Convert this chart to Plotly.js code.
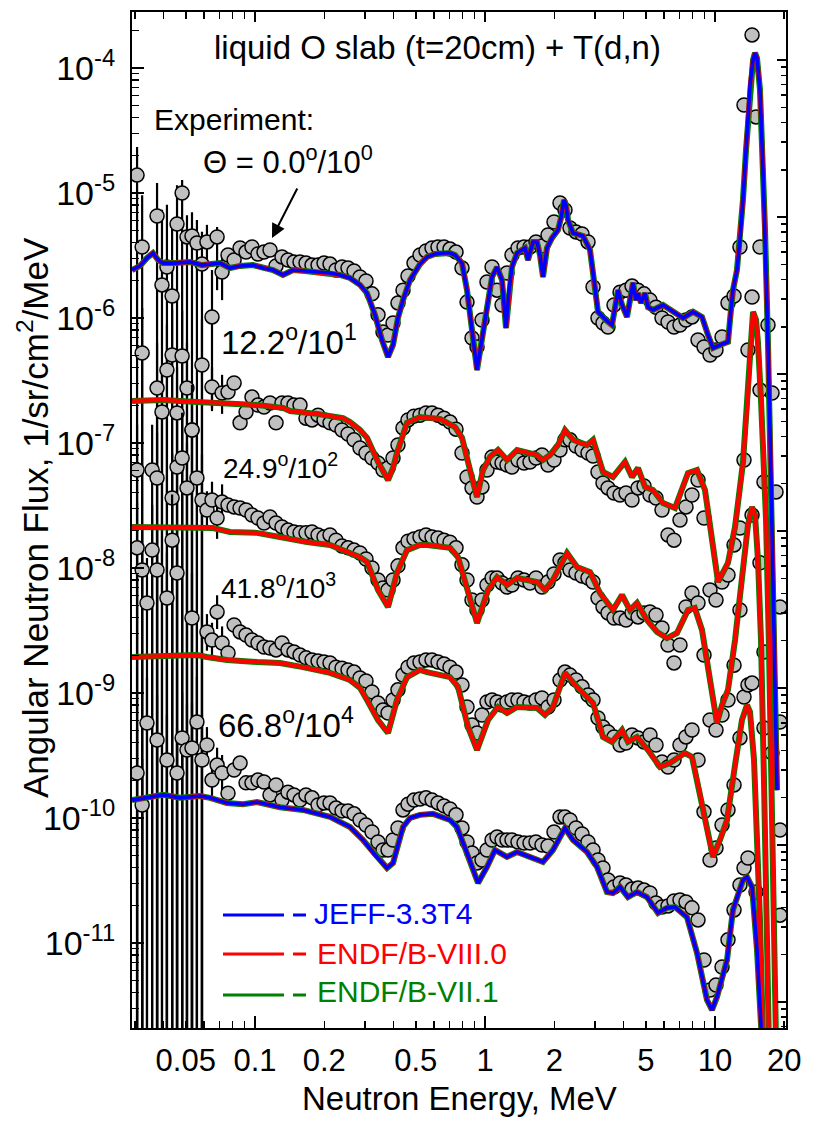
<!DOCTYPE html>
<html><head><meta charset="utf-8">
<script src="https://cdn.plot.ly/plotly-3.0.1.min.js"></script>
<style>html,body{margin:0;padding:0;background:#fff}#chart{width:818px;height:1124px}</style>
</head><body><div id="chart"></div>
<script>
// ---------------- Calculated spectra (MeV, 1/sr/cm^2/MeV, already scaled) ----------------
const E_calc0 = [0.0292,0.0316,0.0339,0.0360,0.0379,0.0398,0.0449,0.0522,0.0588,0.0650,0.0705,0.0778,0.0861,0.0980,0.1083,0.1197,0.1323,0.1463,0.1650,0.1861,0.2119,0.2342,0.2588,0.2861,0.3069,0.3324,0.3566,0.3787,0.3981,0.4184,0.4399,0.4720,0.5216,0.5597,0.6063,0.6568,0.7043,0.7404,0.7943,0.8352,0.8780,0.9231,0.9608,1.000,1.073,1.128,1.186,1.234,1.272,1.310,1.378,1.493,1.538,1.617,1.683,1.734,1.787,1.860,1.956,2.077,2.140,2.205,2.250,2.296,2.413,2.667,2.861,2.979,3.100,3.391,3.566,3.788,3.942,4.144,4.314,4.401,4.535,4.627,4.768,4.963,5.114,5.375,5.941,6.568,7.260,8.025,8.780,9.324,9.802,10.51,11.39,11.62,11.97,12.46,12.84,13.23,13.64,14.20,14.63,14.93,15.23,15.69,16.17,16.50,17.00,17.52,18.06,18.42,18.61];
const F_calc0 = [2.42e-6,2.61e-6,3.02e-6,3.31e-6,2.91e-6,2.75e-6,2.75e-6,2.81e-6,2.65e-6,2.70e-6,
2.75e-6,2.51e-6,2.61e-6,2.65e-6,2.51e-6,2.42e-6,2.21e-6,2.42e-6,2.38e-6,2.33e-6,
2.29e-6,2.21e-6,2.09e-6,1.84e-6,1.58e-6,1.06e-6,6.67e-7,4.88e-7,6.08e-7,1.0e-6,
1.39e-6,2.01e-6,2.70e-6,3.08e-6,3.25e-6,3.31e-6,3.31e-6,3.19e-6,2.75e-6,1.67e-6,
8.02e-7,3.84e-7,6.08e-7,9.64e-7,2.13e-6,2.56e-6,2.01e-6,8.32e-7,1.67e-6,2.56e-6,
3.31e-6,3.63e-6,2.91e-6,4.06e-6,4.06e-6,3.19e-6,2.13e-6,3.63e-6,4.37e-6,5.06e-6,
6.31e-6,8.79e-6,8.02e-6,6.08e-6,4.79e-6,4.53e-6,3.50e-6,2.01e-6,1.12e-6,9.46e-7,
8.79e-7,1.67e-6,1.27e-6,1.02e-6,1.67e-6,1.91e-6,1.39e-6,1.58e-6,1.32e-6,1.58e-6,
1.22e-6,1.16e-6,1.27e-6,1.12e-6,1.0e-6,1.12e-6,1.02e-6,7.31e-7,5.75e-7,6.08e-7,
6.43e-7,9.64e-7,1.67e-6,2.42e-6,4.21e-6,8.79e-6,2.21e-5,7.31e-5,1.16e-4,1.32e-4,
1.20e-4,6.67e-5,1.53e-5,5.06e-6,6.31e-7,5.35e-8,2.21e-9,2.91e-10,1.67e-10];

const E_calc12 = [0.0292,0.0398,0.0559,0.0778,0.1020,0.1323,0.1420,0.1861,0.2413,0.2588,0.2861,0.3069,0.3426,0.3787,0.3981,0.4142,0.4579,0.5216,0.5597,0.6373,0.7404,0.7943,0.8605,0.9231,0.9802,1.051,1.139,1.246,1.378,1.683,1.787,1.917,2.077,2.227,2.413,2.588,2.777,2.949,3.258,3.602,4.062,4.357,4.627,4.963,5.375,5.941,6.699,7.630,8.352,9.045,9.705,10.31,11.39,12.22,13.23,13.91,14.34,14.63,15.08,15.38,15.85,16.17,16.67,17.18,17.70,18.24,18.61];
const F_calc12 = [2.17e-7,2.21e-7,2.13e-7,2.09e-7,2.01e-7,1.91e-7,1.80e-7,1.71e-7,1.58e-7,1.47e-7,
1.27e-7,1.10e-7,7.05e-8,5.06e-8,6.31e-8,8.32e-8,1.45e-7,1.61e-7,1.58e-7,1.56e-7,
1.34e-7,1.10e-7,6.08e-8,3.70e-8,6.08e-8,7.73e-8,8.79e-8,7.31e-8,8.79e-8,8.02e-8,
7.31e-8,8.02e-8,9.64e-8,1.27e-7,1.06e-7,1.0e-7,9.64e-8,1.06e-7,5.86e-8,5.35e-8,
7.05e-8,5.35e-8,6.31e-8,4.45e-8,4.21e-8,3.31e-8,3.02e-8,5.75e-8,6.08e-8,4.21e-8,
1.67e-8,7.73e-9,1.10e-8,2.13e-8,6.92e-8,2.33e-7,6.67e-7,1.12e-6,9.64e-7,6.31e-7,
2.21e-7,1.0e-7,2.42e-8,2.21e-9,1.39e-10,8.79e-12,5.55e-13];

const E_calc25 = [0.0292,0.0559,0.0657,0.0778,0.1020,0.1284,0.1683,0.2119,0.2512,0.2861,0.3069,0.3426,0.3787,0.3981,0.4142,0.4579,0.5216,0.5597,0.7043,0.7632,0.8435,0.9231,1.031,1.128,1.246,1.378,1.683,1.823,1.975,2.273,2.512,2.861,3.161,3.602,3.942,4.267,4.581,5.061,5.596,6.184,6.836,7.630,8.170,8.780,9.513,10.20,10.73,11.39,12.22,13.23,13.91,14.49,14.93,15.38,15.85,16.33,16.83,17.34];
const F_calc25 = [2.13e-8,2.13e-8,2.09e-8,1.94e-8,1.91e-8,1.77e-8,1.61e-8,1.53e-8,1.34e-8,1.22e-8,
1.12e-8,6.67e-9,4.88e-9,6.67e-9,9.12e-9,1.39e-8,1.53e-8,1.53e-8,1.45e-8,1.22e-8,
6.31e-9,3.63e-9,6.67e-9,8.47e-9,7.31e-9,8.32e-9,7.73e-9,6.67e-9,8.02e-9,1.32e-8,
1.02e-8,9.29e-9,6.31e-9,4.61e-9,6.08e-9,4.61e-9,5.25e-9,3.84e-9,3.08e-9,2.75e-9,
3.02e-9,4.61e-9,4.79e-9,3.19e-9,1.27e-9,5.75e-10,8.02e-10,1.06e-9,2.65e-9,9.64e-9,
2.21e-8,3.08e-8,2.65e-8,1.16e-8,2.65e-9,2.01e-10,1.53e-11,5.55e-13];

const E_calc42 = [0.0292,0.0559,0.0618,0.0755,0.1020,0.1284,0.1617,0.2119,0.2588,0.2861,0.3069,0.3426,0.3787,0.3981,0.4142,0.4579,0.5216,0.5597,0.7043,0.7632,0.8435,0.9231,1.031,1.139,1.246,1.378,1.683,1.823,1.975,2.227,2.512,2.949,3.258,3.566,3.942,4.184,4.581,5.114,5.763,6.368,7.400,7.943,8.604,9.231,9.802,10.51,11.28,12.22,13.10,13.78,14.20,14.78,15.23,15.69,16.17,16.50];
const F_calc42 = [1.94e-9,2.01e-9,1.94e-9,1.84e-9,1.77e-9,1.74e-9,1.61e-9,1.45e-9,1.27e-9,1.10e-9,
8.79e-10,6.08e-10,4.79e-10,6.67e-10,8.79e-10,1.34e-9,1.53e-9,1.47e-9,1.34e-9,1.12e-9,
5.35e-10,3.50e-10,6.08e-10,7.73e-10,6.92e-10,7.73e-10,7.59e-10,6.67e-10,7.73e-10,1.45e-9,
1.12e-9,8.32e-10,4.45e-10,4.06e-10,5.06e-10,4.06e-10,4.45e-10,3.50e-10,2.56e-10,2.75e-10,
3.31e-10,3.08e-10,1.58e-10,8.02e-11,4.88e-11,6.67e-11,9.64e-11,2.65e-10,6.08e-10,8.02e-10,
7.05e-10,2.91e-10,8.02e-11,1.53e-11,1.67e-12,3.84e-13];

const E_calc67 = [0.0292,0.0398,0.0472,0.0577,0.0637,0.0755,0.0887,0.1020,0.1284,0.1617,0.2119,0.2588,0.2949,0.3324,0.3749,0.3981,0.4399,0.4720,0.5216,0.5941,0.7043,0.7554,0.8352,0.9324,1.020,1.105,1.246,1.378,1.569,1.787,1.975,2.227,2.413,2.777,3.069,3.391,3.602,3.864,4.184,4.581,5.061,5.652,6.184,6.699,7.555,8.352,9.231,9.705,10.20,11.28,11.97,13.23,13.78,14.49,15.23,15.69,16.01,16.50];
const F_calc67 = [1.39e-10,1.53e-10,1.45e-10,1.50e-10,1.45e-10,1.32e-10,1.29e-10,1.34e-10,1.22e-10,1.16e-10,
1.02e-10,8.47e-11,6.67e-11,5.06e-11,3.98e-11,4.37e-11,8.47e-11,1.0e-10,1.06e-10,1.08e-10,
9.64e-11,8.47e-11,5.25e-11,3.02e-11,4.06e-11,5.55e-11,4.88e-11,5.35e-11,4.88e-11,4.45e-11,
5.55e-11,8.32e-11,6.67e-11,5.35e-11,4.06e-11,2.56e-11,2.51e-11,2.81e-11,2.33e-11,2.56e-11,
2.33e-11,1.74e-11,1.91e-11,1.94e-11,1.61e-11,8.32e-12,3.50e-12,2.91e-12,3.70e-12,7.31e-12,
1.84e-11,3.19e-11,3.37e-11,2.81e-11,8.79e-12,3.50e-12,2.01e-12,5.55e-13];

// ---------------- Experiment ----------------
const E_low = [0.0307,0.0323,0.0339,0.0357,0.0375,0.0394,0.0414,0.0436,0.0458,0.0482,0.0506,0.0532,0.0559,0.0588,0.0618,0.0650,0.0684,0.0719];
const F_low0  = [1.39e-5,3.70e-6,null,null,6.55e-6,1.84e-6,2.56e-6,1.50e-6,5.65e-6,1.0e-5,4.45e-6,4.53e-6,3.98e-6,2.70e-6,4.06e-6,1.02e-6,4.45e-6,2.33e-6];
const up_low0 = [9.4e-6,5.9e-6,0,0,5.5e-6,5.5e-6,5.5e-6,4.0e-6,5.9e-6,2.7e-6,2.2e-6,2.5e-6,2.1e-6,2.2e-6,1.5e-6,1.4e-6,0.9e-6,0.86e-6];
const dn_low0 = [1.39e-5,3.70e-6,0,0,6.55e-6,1.84e-6,2.56e-6,1.50e-6,5.65e-6,1.0e-5,4.45e-6,4.53e-6,3.98e-6,2.70e-6,1.5e-6,8.4e-7,2.78e-6,9.4e-7];
const F_low12  = [null,5.25e-7,null,null,2.75e-7,1.77e-7,3.84e-7,5.06e-7,1.74e-7,4.97e-7,2.75e-7,1.27e-7,null,4.21e-7,null,2.81e-7,null,2.51e-7];
const up_low12 = [0,6.8e-7,0,0,3.6e-7,2.3e-7,5.0e-7,6.6e-7,2.3e-7,6.5e-7,3.6e-7,1.7e-7,0,5.5e-7,0,1.2e-7,0,1.0e-7];
const dn_low12 = [0,5.25e-7,0,0,2.75e-7,1.77e-7,3.84e-7,5.06e-7,1.74e-7,4.97e-7,2.75e-7,1.27e-7,0,4.21e-7,0,0.9e-7,0,0.8e-7];
const F_low25  = [6.08e-8,null,null,6.08e-8,5.25e-8,null,null,3.63e-8,6.43e-8,7.59e-8,4.37e-8,1.27e-7,5.25e-8,3.50e-8,2.91e-8,3.50e-8,2.51e-8,3.37e-8];
const up_low25 = [7.9e-8,0,0,7.9e-8,6.8e-8,0,0,4.7e-8,8.4e-8,9.9e-8,5.7e-8,1.65e-7,6.8e-8,4.6e-8,1.2e-8,1.4e-8,1.0e-8,1.3e-8];
const dn_low25 = [6.08e-8,0,0,6.08e-8,5.25e-8,0,0,3.63e-8,6.43e-8,7.59e-8,4.37e-8,1.27e-7,5.25e-8,3.50e-8,0.9e-8,1.0e-8,0.8e-8,1.0e-8];
const F_low42  = [1.45e-8,9.64e-9,5.25e-9,1.39e-8,9.64e-9,null,5.75e-9,1.67e-8,9.12e-9,null,null,3.98e-9,null,null,3.08e-9,2.65e-9,4.45e-9,2.51e-9];
const up_low42 = [1.9e-8,1.25e-8,6.8e-9,1.8e-8,1.25e-8,0,7.5e-9,2.2e-8,1.2e-8,0,0,5.2e-9,0,0,1.2e-9,1.0e-9,1.6e-9,0.9e-9];
const dn_low42 = [1.45e-8,9.64e-9,5.25e-9,1.39e-8,9.64e-9,0,5.75e-9,1.67e-8,9.12e-9,0,0,3.98e-9,0,0,0.9e-9,0.8e-9,1.2e-9,0.7e-9];
const F_low67  = [2.29e-10,1.27e-10,5.75e-10,null,4.21e-10,null,2.91e-10,null,2.29e-10,4.37e-10,3.50e-10,3.63e-10,5.86e-10,2.91e-10,3.84e-10,2.01e-10,2.65e-10,2.29e-10];
const up_low67 = [3.0e-10,1.7e-10,7.5e-10,0,5.5e-10,0,3.8e-10,0,3.0e-10,5.7e-10,4.6e-10,4.7e-10,7.6e-10,3.8e-10,1.5e-10,0.8e-10,1.0e-10,0.9e-10];
const dn_low67 = [2.29e-10,1.27e-10,5.75e-10,0,4.21e-10,0,2.91e-10,0,2.29e-10,4.37e-10,3.50e-10,3.63e-10,5.86e-10,2.91e-10,1.2e-10,0.6e-10,0.8e-10,0.7e-10];

const E_exp = [0.0763,0.0811,0.0861,0.0914,0.0970,0.1030,0.1094,0.1162,0.1234,0.1310,
0.1391,0.1477,0.1569,0.1666,0.1769,0.1879,0.1995,0.2119,0.2250,0.2389,
0.2537,0.2694,0.2861,0.3038,0.3226,0.3426,0.3601,0.3787,0.3981,0.4184,
0.4399,0.4625,0.4911,0.5216,0.5539,0.5882,0.6246,0.6634,0.7043,0.7480,
0.7943,0.8352,0.8780,0.9231,0.9704,1.020,1.073,1.128,1.186,1.246,
1.310,1.391,1.478,1.569,1.666,1.769,1.879,1.995,2.119,2.227,
2.342,2.487,2.641,2.804,2.949,3.099,3.258,3.426,3.638,3.864,
4.102,4.357,4.627,4.913,5.217,5.540,5.883,6.247,6.633,7.043,
7.479,7.943,8.435,8.958,9.513,10.10,10.73,11.39,12.10,12.84,
13.37,13.91,14.49,15.08,15.69,16.33,17.00,17.70,18.42,19.17];
const F_exp0 = [3.19e-6,2.91e-6,3.63e-6,3.37e-6,3.70e-6,3.25e-6,3.37e-6,3.50e-6,2.61e-6,3.08e-6,
2.91e-6,2.81e-6,2.81e-6,2.75e-6,2.65e-6,2.65e-6,2.75e-6,2.70e-6,2.42e-6,2.56e-6,
2.51e-6,2.38e-6,2.13e-6,1.98e-6,1.56e-6,1.06e-6,7.73e-7,7.31e-7,9.12e-7,1.32e-6,
1.67e-6,2.17e-6,2.75e-6,3.19e-6,3.44e-6,3.63e-6,3.70e-6,3.70e-6,3.56e-6,3.37e-6,
2.51e-6,1.34e-6,6.92e-7,5.86e-7,9.64e-7,1.94e-6,2.56e-6,1.67e-6,1.27e-6,2.29e-6,
3.19e-6,3.63e-6,3.70e-6,3.70e-6,4.06e-6,3.77e-6,4.61e-6,5.86e-6,8.32e-6,7.31e-6,
5.25e-6,4.88e-6,4.70e-6,4.06e-6,1.77e-6,1.0e-6,9.12e-7,8.47e-7,1.27e-6,1.61e-6,
1.67e-6,1.80e-6,1.67e-6,1.56e-6,1.39e-6,1.22e-6,1.0e-6,9.29e-7,8.47e-7,8.79e-7,
9.64e-7,1.02e-6,6.67e-7,5.86e-7,5.06e-7,5.55e-7,7.05e-7,1.32e-6,1.50e-6,3.70e-6,
5.06e-5,null,1.84e-4,4.06e-5,3.70e-6,null,8.79e-7,2.51e-7,4.06e-8,null];
const F_exp12 = [2.56e-7,3.02e-7,1.45e-7,1.77e-7,2.33e-7,2.01e-7,1.94e-7,2.09e-7,1.45e-7,2.09e-7,
2.09e-7,2.01e-7,2.01e-7,1.58e-7,1.53e-7,1.67e-7,1.53e-7,1.45e-7,1.39e-7,1.27e-7,
1.18e-7,1.06e-7,9.12e-8,8.32e-8,7.59e-8,6.92e-8,6.08e-8,6.31e-8,7.59e-8,9.64e-8,
1.32e-7,1.53e-7,1.64e-7,1.67e-7,1.74e-7,1.74e-7,1.67e-7,1.58e-7,1.47e-7,1.29e-7,
8.32e-8,5.35e-8,4.37e-8,3.70e-8,4.45e-8,6.08e-8,7.73e-8,7.05e-8,6.92e-8,6.67e-8,
6.43e-8,7.31e-8,6.92e-8,7.05e-8,7.59e-8,8.02e-8,6.67e-8,7.31e-8,8.79e-8,1.06e-7,
1.06e-7,9.46e-8,8.79e-8,8.32e-8,7.87e-8,5.86e-8,4.79e-8,4.37e-8,3.98e-8,3.84e-8,
3.98e-8,3.50e-8,4.37e-8,4.53e-8,3.84e-8,3.63e-8,2.91e-8,1.84e-8,1.67e-8,2.42e-8,
3.08e-8,3.84e-8,5.06e-8,2.51e-8,6.67e-9,5.55e-9,7.73e-9,8.79e-9,1.53e-8,2.09e-8,
7.31e-8,5.55e-7,1.47e-6,null,2.65e-7,4.88e-8,null,null,null,4.88e-9];
const F_exp25 = [3.19e-8,3.08e-8,3.02e-8,2.91e-8,2.65e-8,2.51e-8,2.29e-8,2.56e-8,2.29e-8,2.13e-8,
2.01e-8,1.94e-8,1.91e-8,1.91e-8,1.94e-8,1.84e-8,1.77e-8,1.84e-8,1.67e-8,1.50e-8,
1.45e-8,1.39e-8,1.32e-8,1.18e-8,1.0e-8,8.02e-9,6.92e-9,6.67e-9,8.02e-9,1.04e-8,
1.45e-8,1.64e-8,1.71e-8,1.77e-8,1.84e-8,1.77e-8,1.74e-8,1.67e-8,1.61e-8,1.45e-8,
1.06e-8,8.02e-9,5.55e-9,4.61e-9,5.55e-9,7.31e-9,8.32e-9,8.32e-9,7.59e-9,7.05e-9,
7.31e-9,8.32e-9,8.02e-9,7.59e-9,8.32e-9,7.05e-9,7.73e-9,8.95e-9,1.16e-8,1.10e-8,
9.64e-9,9.12e-9,8.63e-9,8.32e-9,7.73e-9,5.75e-9,4.88e-9,4.37e-9,3.98e-9,3.98e-9,
3.84e-9,4.37e-9,4.06e-9,4.37e-9,4.45e-9,4.21e-9,3.31e-9,2.42e-9,1.74e-9,2.42e-9,
4.88e-9,6.31e-9,5.25e-9,2.01e-9,6.08e-10,5.06e-10,6.67e-10,8.79e-10,1.67e-9,4.61e-9,
null,null,2.65e-8,null,1.10e-8,2.13e-9,null,null,null,5.86e-10];
const F_exp42 = [2.09e-9,3.50e-9,3.08e-9,2.91e-9,2.65e-9,2.51e-9,2.33e-9,2.29e-9,2.21e-9,2.51e-9,
2.21e-9,2.13e-9,2.01e-9,1.91e-9,1.84e-9,1.80e-9,1.77e-9,1.74e-9,1.61e-9,1.58e-9,
1.53e-9,1.47e-9,1.32e-9,1.25e-9,1.02e-9,8.32e-10,7.31e-10,6.92e-10,8.79e-10,1.06e-9,
1.39e-9,1.61e-9,1.74e-9,1.77e-9,1.84e-9,1.84e-9,1.77e-9,1.71e-9,1.61e-9,1.47e-9,
1.16e-9,7.73e-10,5.55e-10,4.79e-10,6.67e-10,8.47e-10,8.79e-10,8.47e-10,8.02e-10,8.47e-10,
8.79e-10,8.79e-10,8.47e-10,8.32e-10,8.79e-10,9.12e-10,7.73e-10,8.79e-10,1.27e-9,1.47e-9,
1.39e-9,1.27e-9,1.12e-9,9.64e-10,8.79e-10,6.31e-10,5.35e-10,4.88e-10,4.45e-10,3.84e-10,
3.98e-10,4.61e-10,4.37e-10,4.06e-10,4.61e-10,3.84e-10,2.81e-10,2.56e-10,2.91e-10,3.84e-10,
4.45e-10,5.06e-10,2.91e-10,1.12e-10,4.61e-11,5.75e-11,8.79e-11,1.16e-10,1.84e-10,4.37e-10,
9.29e-10,1.16e-9,1.20e-9,null,null,5.25e-10,null,3.31e-10,null,8.02e-11];
const F_exp67 = [1.58e-10,2.42e-10,2.75e-10,1.91e-10,1.91e-10,2.01e-10,1.94e-10,1.53e-10,1.84e-10,1.39e-10,
1.61e-10,1.53e-10,1.39e-10,1.53e-10,1.45e-10,1.27e-10,1.32e-10,1.32e-10,1.20e-10,1.14e-10,
1.14e-10,1.08e-10,9.64e-11,8.79e-11,7.73e-11,6.43e-11,5.55e-11,5.55e-11,6.67e-11,8.32e-11,
1.16e-10,1.29e-10,1.39e-10,1.42e-10,1.45e-10,1.39e-10,1.32e-10,1.25e-10,1.18e-10,1.06e-10,
8.32e-11,6.43e-11,5.25e-11,4.37e-11,4.61e-11,5.55e-11,6.67e-11,7.05e-11,6.67e-11,6.67e-11,
6.67e-11,6.43e-11,6.31e-11,6.31e-11,6.43e-11,6.08e-11,5.97e-11,7.73e-11,1.02e-10,1.02e-10,
9.64e-11,8.32e-11,7.45e-11,6.43e-11,5.55e-11,4.61e-11,3.98e-11,3.19e-11,2.81e-11,3.02e-11,
2.91e-11,2.70e-11,2.75e-11,2.65e-11,2.51e-11,2.09e-11,1.94e-11,1.98e-11,2.17e-11,2.21e-11,
2.13e-11,1.91e-11,1.53e-11,7.31e-12,4.21e-12,4.61e-12,6.43e-12,1.06e-11,1.84e-11,2.91e-11,
3.98e-11,4.79e-11,null,2.56e-11,null,null,null,null,null,1.67e-11];

// ---------------- Axis tick labels ----------------
const xTickVals = [0.05,0.1,0.2,0.5,1,2,5,10,20];
const xTickText = ['0.05','0.1','0.2','0.5','1','2','5','10','20'];
const yTickVals = [1e-11,1e-10,1e-9,1e-8,1e-7,1e-6,1e-5,1e-4];
const yTickText = ['10<sup>-11</sup>','10<sup>-10</sup>','10<sup>-9</sup>','10<sup>-8</sup>','10<sup>-7</sup>','10<sup>-6</sup>','10<sup>-5</sup>','10<sup>-4</sup>'];

const libNames = ['JEFF-3.3T4','ENDF/B-VIII.0','ENDF/B-VII.1'];
const libColors = ['#0000ff','#ff0000','#008000'];

// ---------------- build ----------------
function minorLog(e0, e1){ const v=[]; for(let e=e0;e<=e1;e++){ for(let m=2;m<=9;m++){ v.push(m*Math.pow(10,e)); } } return v; }
const xMinor = [0.03,0.04,0.06,0.07,0.08,0.09,0.3,0.4,0.6,0.7,0.8,0.9,3,4,6,7,8,9];
const XR = [Math.log10(0.02918), 1.3087];
const YR = [-11.68, -3.552];

const expMarker = {symbol:'circle', size:14, color:'#c0c0c0', line:{color:'#000000', width:1.5}};
function expLow(F, up, dn){
  return {x:E_low, y:F, type:'scatter', mode:'markers', marker:expMarker, hoverinfo:'skip', showlegend:false,
    error_y:{type:'data', symmetric:false, array:up, arrayminus:dn, color:'#000000', thickness:2.2, width:0}};
}
function expMain(F){ return {x:E_exp, y:F, type:'scatter', mode:'markers', marker:expMarker, hoverinfo:'skip', showlegend:false}; }
function calc(E, F, color, w){ return {x:E, y:F, type:'scatter', mode:'lines', line:{color:color, width:w}, hoverinfo:'skip', showlegend:false}; }

const traces = [
  expLow(F_low0, up_low0, dn_low0), expLow(F_low12, up_low12, dn_low12), expLow(F_low25, up_low25, dn_low25),
  expLow(F_low42, up_low42, dn_low42), expLow(F_low67, up_low67, dn_low67),
  expMain(F_exp0), expMain(F_exp12), expMain(F_exp25), expMain(F_exp42), expMain(F_exp67),
  // ENDF/B-VII.1 (green, widest, bottom)
  calc(E_calc0, F_calc0, libColors[2], 6), calc(E_calc12, F_calc12, libColors[2], 6), calc(E_calc25, F_calc25, libColors[2], 6),
  calc(E_calc42, F_calc42, libColors[2], 6), calc(E_calc67, F_calc67, libColors[2], 6),
  // ENDF/B-VIII.0 (red)
  calc(E_calc0, F_calc0, libColors[1], 4.5), calc(E_calc12, F_calc12, libColors[1], 4.2), calc(E_calc25, F_calc25, libColors[1], 4.2),
  calc(E_calc42, F_calc42, libColors[1], 4.2), calc(E_calc67, F_calc67, libColors[1], 4.5),
  // JEFF-3.3T4 (blue, shown for 0 and 66.8 deg)
  calc(E_calc0, F_calc0, libColors[0], 3.6), calc(E_calc67, F_calc67, libColors[0], 3.6),
  // empty trace that only attaches the right-hand tick axis
  {x:[], y:[], type:'scatter', mode:'markers', yaxis:'y2', hoverinfo:'skip', showlegend:false}
];

const L = 132, R = 786, T = 12, B = 1028;
const px = v => (v - L) / (R - L);
const py = v => (B - v) / (B - T);
const fam = 'Liberation Sans, Arial, Helvetica, sans-serif';
function txt(text, x, y, size, extra){
  return Object.assign({text:text, x:px(x), y:py(y), xref:'paper', yref:'paper', xanchor:'center', yanchor:'middle', showarrow:false,
    font:{size:size, family:fam, color:'#000'}}, extra || {});
}

const annotations = [
  txt('liquid O slab (t=20cm) + T(d,n)', 437, 47, 33),
  txt('Experiment:', 234, 119, 30),
  txt('\u0398 = 0.0<sup>o</sup>/10<sup>0</sup>', 288, 160, 31),
  {text:'', x:px(272), y:py(238), xref:'paper', yref:'paper', showarrow:true, ax:26, ay:-51, arrowhead:2, arrowsize:1.4, arrowwidth:2, arrowcolor:'#000'},
  txt('12.2<sup>o</sup>/10<sup>1</sup>', 289, 340, 33),
  txt('24.9<sup>o</sup>/10<sup>2</sup>', 280, 466, 28),
  txt('41.8<sup>o</sup>/10<sup>3</sup>', 278, 586, 28),
  txt('66.8<sup>o</sup>/10<sup>4</sup>', 286, 723, 33),
  txt(libNames[0], 312, 913, 30, {xanchor:'left', font:{size:30, family:fam, color:libColors[0]}}),
  txt(libNames[1], 315, 953, 30, {xanchor:'left', font:{size:30, family:fam, color:libColors[1]}}),
  txt(libNames[2], 315, 991, 30, {xanchor:'left', font:{size:30, family:fam, color:libColors[2]}}),
  txt('Angular Neutron Flux, 1/sr/cm<sup>2</sup>/MeV', 33, 518, 35, {textangle:-90}),
  txt('Neutron Energy, MeV', 459, 1098, 33)
];

const shapes = [];
const legY = [915, 954, 995];
for (let i = 0; i < 3; i++) {
  shapes.push({type:'line', xref:'paper', yref:'paper', x0:px(223), x1:px(284), y0:py(legY[i]), y1:py(legY[i]), line:{color:libColors[i], width:3}});
  shapes.push({type:'line', xref:'paper', yref:'paper', x0:px(293), x1:px(306), y0:py(legY[i]), y1:py(legY[i]), line:{color:libColors[i], width:3}});
}
[0.1, 1, 10].forEach(v => {
  const xp = (Math.log10(v) - XR[0]) / (XR[1] - XR[0]);
  shapes.push({type:'line', xref:'paper', yref:'paper', x0:xp, x1:xp, y0:0, y1:12/(B-T), line:{color:'#000', width:2}});
  shapes.push({type:'line', xref:'paper', yref:'paper', x0:xp, x1:xp, y0:1, y1:1-10/(B-T), line:{color:'#000', width:2}});
});

const layout = {
  width:818, height:1124, margin:{l:L, r:818-R, t:T, b:1124-B}, paper_bgcolor:'#ffffff', plot_bgcolor:'#ffffff', showlegend:false,
  font:{family:fam, color:'#000'},
  xaxis:{type:'log', range:XR, tickmode:'array', tickvals:xTickVals, ticktext:xTickText, ticks:'inside', ticklen:7, tickwidth:1.5, tickcolor:'#000',
    showline:true, linecolor:'#000', linewidth:2, mirror:'ticks', showgrid:false, zeroline:false, tickfont:{size:31, family:fam, color:'#000'},
    ticklabelstandoff:4,
    minor:{tickmode:'array', tickvals:xMinor, ticks:'inside', ticklen:7, tickwidth:1.5, tickcolor:'#000', showgrid:false}},
  yaxis:{type:'log', range:YR, tickmode:'array', tickvals:yTickVals, ticktext:yTickText, ticks:'inside', ticklen:12, tickwidth:2, tickcolor:'#000',
    showline:true, linecolor:'#000', linewidth:2, mirror:true, showgrid:false, zeroline:false, tickfont:{size:34, family:fam, color:'#000'},
    ticklabelstandoff:8,
    minor:{tickmode:'array', tickvals:minorLog(-12,-4), ticks:'inside', ticklen:7, tickwidth:1.5, tickcolor:'#000', showgrid:false}},
  yaxis2:{type:'log', overlaying:'y', side:'right', anchor:'x', range:[-6.166, 0.306], tickmode:'array', tickvals:[1e-6,1e-5,1e-4,1e-3,1e-2,1e-1,1],
    ticks:'inside', ticklen:9, tickwidth:2, tickcolor:'#000', showticklabels:false, showline:false, showgrid:false, zeroline:false,
    minor:{tickmode:'array', tickvals:minorLog(-7,0), ticks:'inside', ticklen:5, tickwidth:1.5, tickcolor:'#000', showgrid:false}},
  annotations:annotations, shapes:shapes
};

Plotly.newPlot('chart', traces, layout, {displayModeBar:false, staticPlot:true});
</script></body></html>
